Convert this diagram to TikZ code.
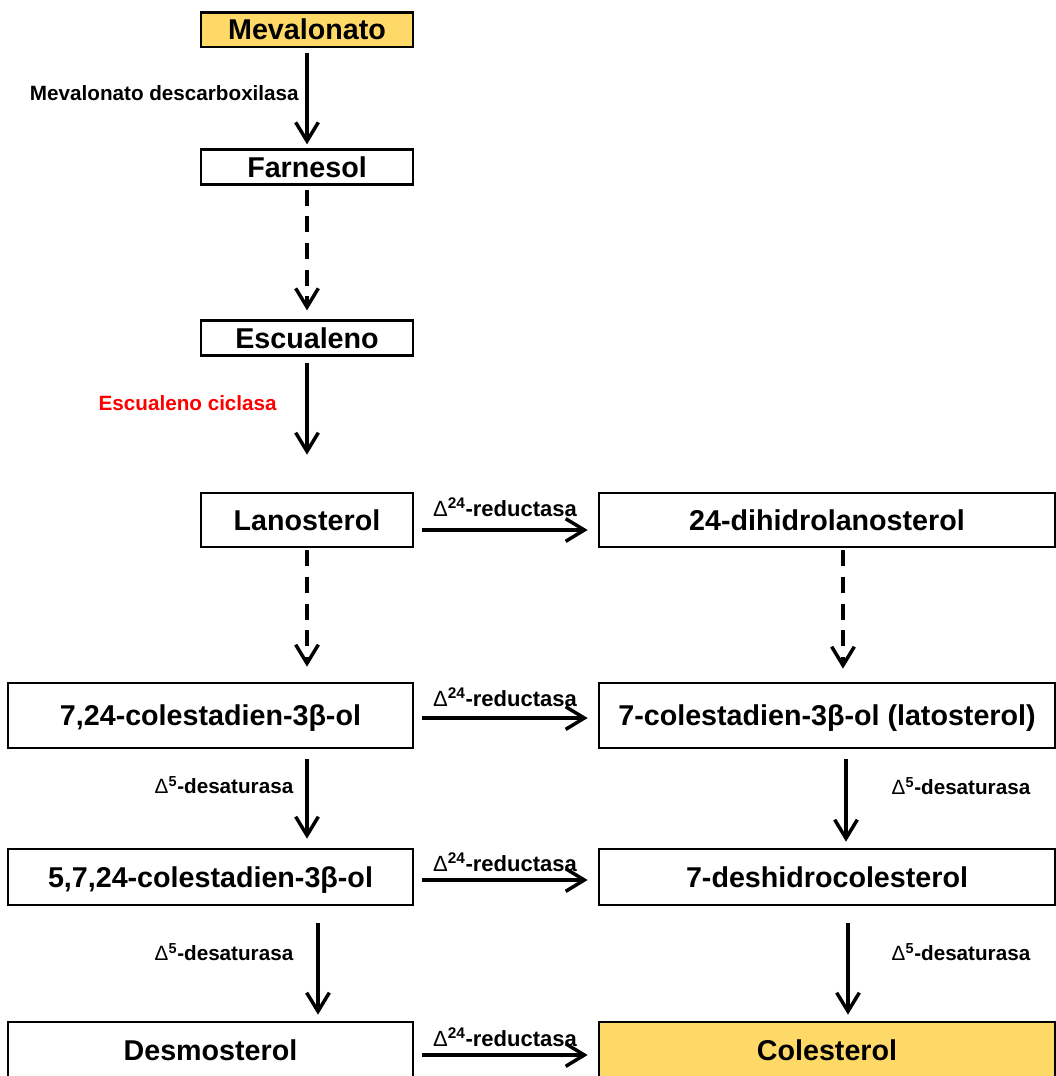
\documentclass[tikz,border=0pt]{standalone}
\usepackage{fontspec}
\setmainfont{Liberation Sans}
\usetikzlibrary{arrows.meta,calc}

\definecolor{mevyellow}{RGB}{254,217,104}
\tikzset{
  box/.style={draw,line width=2pt,inner sep=0pt,text height=15.4pt,text depth=0pt,font=\bfseries\fontsize{21.5}{24}\selectfont},
  hilite/.style={box,fill=mevyellow},
  arr/.style={line width=2.6pt,-{Straight Barb[length=14pt,width=17pt]}},
  darr/.style={arr,dash pattern=on 12pt off 8pt},
  enz/.style={font=\bfseries\fontsize{15.5}{18}\selectfont,inner sep=0pt},
  red24/.style={font=\bfseries\fontsize{16.5}{19}\selectfont,inner sep=0pt},
}
\newcommand{\dred}{{\mdseries Δ}\textsuperscript{24}-reductasa}
\newcommand{\ddes}{{\mdseries Δ}\textsuperscript{5}-desaturasa}

\begin{document}
\begin{tikzpicture}[x=0.75pt,y=-0.75pt]
	\useasboundingbox (0,0) rectangle (1056,1076);
	%Top column
	\node[hilite,minimum width=159pt,minimum height=26pt] (mev) at (307,29.5) {Mevalonato};
	\node[box,minimum width=159pt,minimum height=26pt] (far) at (307,167) {Farnesol};
	\node[box,minimum width=159pt,minimum height=26pt] (esc) at (307,338) {Escualeno};
	\draw[arr,shorten <=3.75pt,shorten >=3pt] (mev) -- (far);
	\node[enz,anchor=east] (mdc) at (299,93) {Mevalonato descarboxilasa};
	\draw[darr,shorten <=3pt,shorten >=6.75pt] (far) -- (esc);
	%Row 1
	\node[box,minimum width=159pt,minimum height=40.5pt] (lan) at (307,520) {Lanosterol};
	\node[box,minimum width=342pt,minimum height=40.5pt] (dih) at (827,520) {24-dihidrolanosterol};
	\draw[arr,shorten <=4.5pt,shorten >=27.75pt] (esc) -- (lan);
	\node[enz,anchor=east,text=red] (cic) at (277,403) {Escualeno ciclasa};
	\draw[arr,shorten <=6pt,shorten >=7.5pt] ([yshift=-7.5pt]lan.east) -- ([yshift=-7.5pt]dih.west);
	\node[red24] (r1) at (505,507) {\dred};
	%Row 2
	\node[box,minimum width=303.75pt,minimum height=48.75pt] (c724) at (210.5,715.5) {7,24-colestadien-3β-ol};
	\node[box,minimum width=342pt,minimum height=48.75pt] (lat) at (827,715.5) {7-colestadien-3β-ol (latosterol)};
	\draw[darr,shorten <=1.5pt,shorten >=11.25pt] (lan) -- (lan |- c724.north);
	\draw[darr,shorten <=1.5pt,shorten >=9.75pt] ($(dih.south)+(16,0)$) -- ($(lat.north)+(16,0)$);
	\draw[arr,shorten <=6pt,shorten >=7.5pt] ([yshift=-1.9pt]c724.east) -- ([yshift=-1.9pt]lat.west);
	\node[red24] (r2) at (505,697) {\dred};
	%Row 3
	\node[box,minimum width=303.75pt,minimum height=42pt] (c5724) at (210.5,877) {5,7,24-colestadien-3β-ol};
	\node[box,minimum width=342pt,minimum height=42pt] (dhc) at (827,877) {7-deshidrocolesterol};
	\draw[arr,shorten <=7.5pt,shorten >=6.75pt] (lan |- c724.south) -- (lan |- c5724.north);
	\node[enz] (d1) at (224,785) {\ddes};
	\draw[arr,shorten <=7.5pt,shorten >=4.5pt] ($(lat.south)+(19,0)$) -- ($(dhc.north)+(19,0)$);
	\node[enz] (d2) at (961,786) {\ddes};
	\draw[arr,shorten <=6pt,shorten >=7.5pt] ([yshift=-2.25pt]c5724.east) -- ([yshift=-2.25pt]dhc.west);
	\node[red24] (r3) at (505,862) {\dred};
	%Row 4
	\node[box,minimum width=303.75pt,minimum height=42pt] (des) at (210.5,1050) {Desmosterol};
	\node[hilite,minimum width=342pt,minimum height=42pt] (col) at (827,1050) {Colesterol};
	\draw[arr,shorten <=12.75pt,shorten >=4.5pt] ($(lan |- c5724.south)+(11,0)$) -- ($(lan |- des.north)+(11,0)$);
	\node[enz] (d3) at (224,952) {\ddes};
	\draw[arr,shorten <=12.75pt,shorten >=4.5pt] ($(dhc.south)+(21,0)$) -- ($(col.north)+(21,0)$);
	\node[enz] (d4) at (961,952) {\ddes};
	\draw[arr,shorten <=6pt,shorten >=7.5pt] ([yshift=-3.75pt]des.east) -- ([yshift=-3.75pt]col.west);
	\node[red24] (r4) at (505,1037) {\dred};
\end{tikzpicture}
\end{document}
